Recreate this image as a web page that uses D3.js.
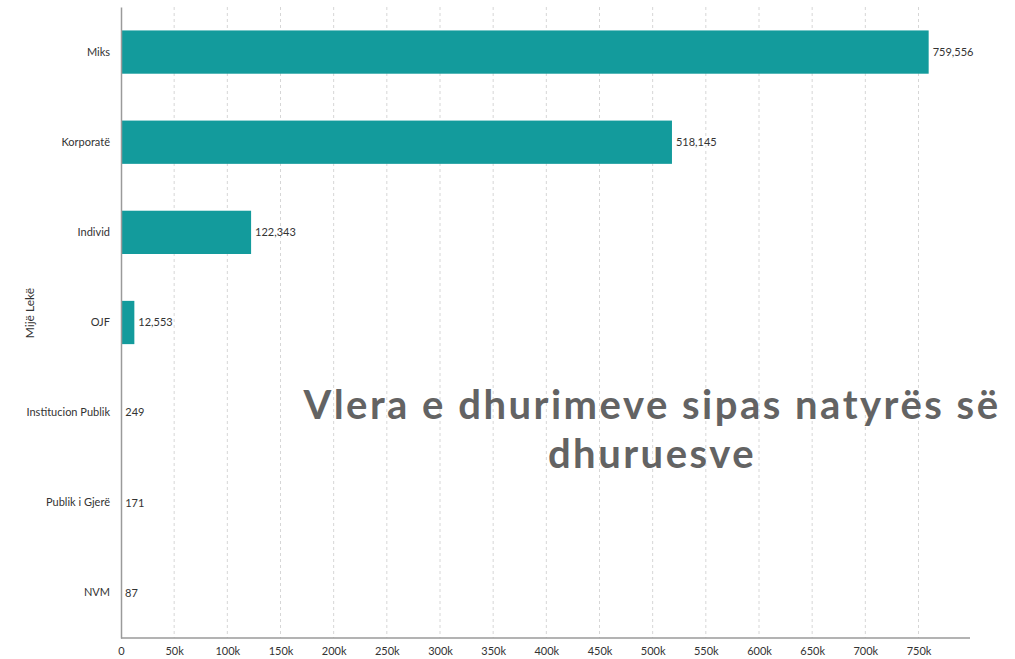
<!DOCTYPE html>
<html>
<head>
<meta charset="utf-8">
<script src="https://cdn.jsdelivr.net/npm/d3@7"></script>
<style>
  body { margin: 0; background: #fff; }
  svg text { font-family: Lato, "Open Sans", sans-serif; }
</style>
</head>
<body>
<div id="chart"></div>
<script>
var categories = ["Miks", "Korporatë", "Individ", "OJF", "Institucion Publik", "Publik i Gjerë", "NVM"];
var values = [759556, 518145, 122343, 12553, 249, 171, 87];
var tickValues = [0, 50000, 100000, 150000, 200000, 250000, 300000, 350000, 400000, 450000, 500000, 550000, 600000, 650000, 700000, 750000];
var titleLines = ["Vlera e dhurimeve sipas natyrës së", "dhuruesve"];
var axisTitle = "Mijë Lekë";

drawChart();

function drawChart() {
  var width = 1015, height = 659;
  var mLeft = 121, mTop = 7, mBottom = 638, mRight = 970;

  var svg = d3.select('#chart').append('svg')
    .attr('width', width)
    .attr('height', height);

  var x = d3.scaleLinear().domain([0, 750000]).range([mLeft, 918.5]);
  var y = d3.scaleBand().domain(categories).range([mTop, mBottom]).paddingInner(0.52).paddingOuter(0.26);

  // dashed grid
  svg.selectAll('line.grid')
    .data(tickValues.slice(1))
    .enter().append('line')
    .attr('x1', function(d) { return x(d); })
    .attr('x2', function(d) { return x(d); })
    .attr('y1', mTop)
    .attr('y2', mBottom)
    .attr('stroke', '#d6d6d6')
    .attr('stroke-dasharray', '3,3')
    .attr('stroke-width', 1);

  // bars
  svg.selectAll('rect.bar')
    .data(categories)
    .enter().append('rect')
    .attr('x', x(0))
    .attr('y', function(d) { return y(d); })
    .attr('width', function(d, i) { return x(values[i]) - x(0); })
    .attr('height', y.bandwidth())
    .attr('fill', '#139b9c');

  // value labels
  svg.selectAll('text.val')
    .data(categories)
    .enter().append('text')
    .attr('x', function(d, i) { return x(values[i]) + 4; })
    .attr('y', function(d) { return y(d) + y.bandwidth() / 2; })
    .attr('dy', '0.35em')
    .style('font-size', '11px')
    .attr('fill', '#333')
    .text(function(d, i) { return d3.format(',')(values[i]); });

  // y axis
  var yAxis = svg.append('g')
    .attr('transform', 'translate(' + mLeft + ',0)')
    .call(d3.axisLeft(y).tickSize(0).tickPadding(11));
  yAxis.select('.domain').attr('stroke', '#9a9a9a').attr('stroke-width', 1.5);
  yAxis.selectAll('text').style('font-size', '11px').attr('fill', '#333');

  // x axis
  var xAxis = svg.append('g')
    .attr('transform', 'translate(0,' + mBottom + ')')
    .call(d3.axisBottom(x).tickValues(tickValues).tickSize(0).tickPadding(9)
      .tickFormat(function(d) { return d === 0 ? '0' : (d / 1000) + 'k'; }));
  xAxis.select('.domain').attr('d', 'M' + mLeft + ',0H' + mRight).attr('stroke', '#9a9a9a').attr('stroke-width', 1.5);
  xAxis.selectAll('text').style('font-size', '11px').attr('fill', '#333');

  // axis title
  svg.append('text')
    .attr('transform', 'translate(34,313) rotate(-90)')
    .attr('text-anchor', 'middle')
    .style('font-size', '12px')
    .attr('fill', '#333')
    .text(axisTitle);

  // chart title
  svg.selectAll('text.title')
    .data(titleLines)
    .enter().append('text')
    .attr('x', 652)
    .attr('y', function(d, i) { return 419 + i * 49; })
    .attr('text-anchor', 'middle')
    .style('font-weight', 'bold')
    .style('font-size', '40px')
    .style('letter-spacing', '2.5px')
    .attr('fill', '#636363')
    .text(function(d) { return d; });
}
</script>
</body>
</html>
